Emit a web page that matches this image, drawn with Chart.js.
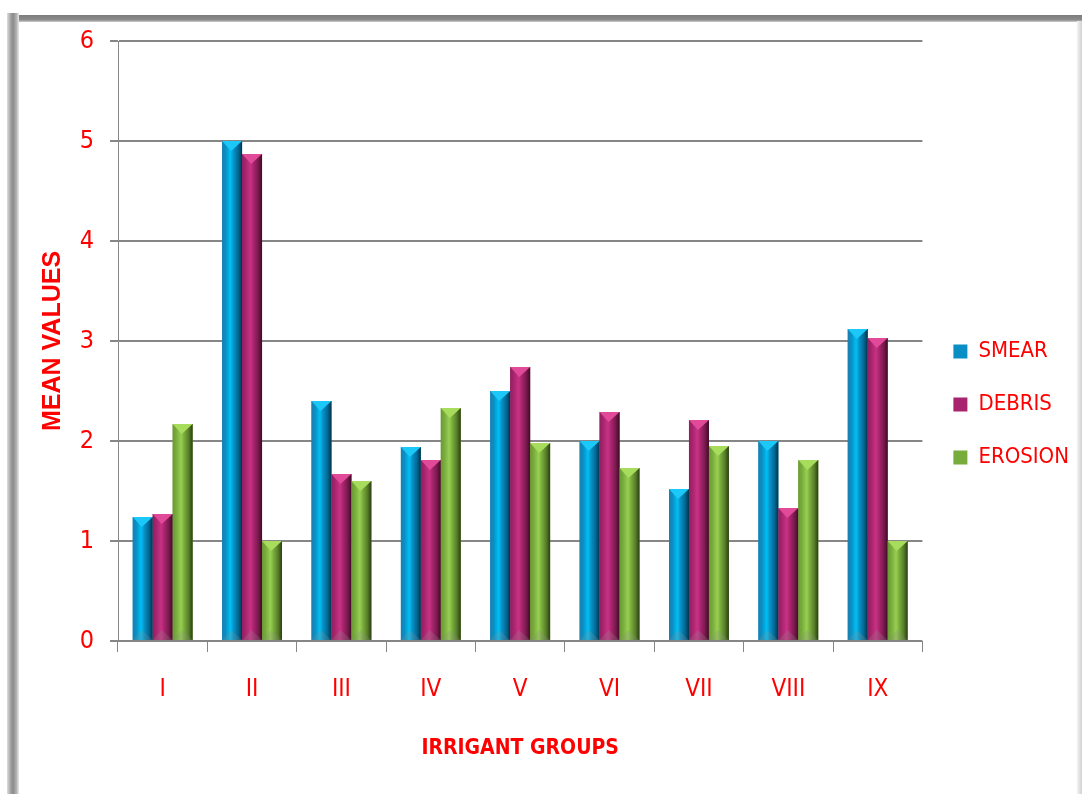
<!DOCTYPE html>
<html><head><meta charset="utf-8">
<script src="https://cdn.jsdelivr.net/npm/chart.js@4/dist/chart.umd.min.js"></script>
<style>
html,body{margin:0;padding:0;background:#fff;overflow:hidden}
#wrap{position:relative;width:1083px;height:794px;background:#fff}
#frameTop{position:absolute;left:13px;top:15px;width:1069px;height:7px;background:linear-gradient(#7c7c7c,#8c8c8c 70%,#cfcfcf)}
#frameLeft{position:absolute;left:7px;top:13px;width:12px;height:781px;background:linear-gradient(90deg,#dedede,#a4a4a4 30%,#8a8a8a 50%,#b4b4b4 80%,#ececec)}
#frameRight{position:absolute;left:1077px;top:21px;width:5px;height:773px;background:linear-gradient(90deg,#f2f2f2,#d2d2d2)}
canvas{position:absolute;left:0;top:0}
</style></head>
<body><div id="wrap"><div id="frameTop"></div><div id="frameLeft"></div><div id="frameRight"></div><canvas id="c" width="1083" height="794"></canvas></div>
<script>
const categories = ['I','II','III','IV','V','VI','VII','VIII','IX'];
const seriesNames = ['SMEAR','DEBRIS','EROSION'];
const smear   = [1.24, 5.00, 2.40, 1.94, 2.50, 2.00, 1.52, 2.00, 3.12];
const debris  = [1.27, 4.87, 1.67, 1.81, 2.74, 2.29, 2.21, 1.33, 3.03];
const erosion = [2.17, 1.00, 1.60, 2.33, 1.98, 1.73, 1.95, 1.81, 1.00];
const yTicks = [0, 1, 2, 3, 4, 5, 6];
const xTitle = 'IRRIGANT GROUPS';
const yTitle = 'MEAN VALUES';

const NARROW = "'Liberation Sans Narrow','DejaVu Sans Condensed','Liberation Sans',sans-serif";
const RED = '#ff0000';
const GRID = '#868686';

const barStyles = [
  {edge:'#1a7fae', mid:'#0a8fc4', light:'#00bff5', dark:'#006a96', darker:'#00334a', top:'#1cc8f8'},
  {edge:'#8e2060', mid:'#a8246e', light:'#c83284', dark:'#7a1a4e', darker:'#3e0c26', top:'#e04a98'},
  {edge:'#6a9a34', mid:'#78ac3c', light:'#98cf52', dark:'#587e2a', darker:'#2a3e12', top:'#a8dc5c'}
];

const shade = {
  id: 'shade',
  afterDatasetsDraw(chart) {
    const ctx = chart.ctx;
    chart.data.datasets.forEach((ds, di) => {
      const meta = chart.getDatasetMeta(di);
      const st = barStyles[di];
      meta.data.forEach(el => {
        const {x, y, base, width} = el.getProps(['x','y','base','width'], true);
        const l = x - width / 2, r = x + width / 2;
        const g = ctx.createLinearGradient(l, 0, r, 0);
        g.addColorStop(0, st.edge);
        g.addColorStop(0.18, st.mid);
        g.addColorStop(0.42, st.light);
        g.addColorStop(0.58, st.mid);
        g.addColorStop(0.8, st.dark);
        g.addColorStop(1, st.darker);
        ctx.save();
        ctx.fillStyle = g;
        ctx.fillRect(l, y, width, base - y);
        const ax = l + width * 0.45;
        ctx.fillStyle = st.top;
        ctx.beginPath();
        ctx.moveTo(l, y); ctx.lineTo(r, y); ctx.lineTo(ax, y + 10); ctx.closePath(); ctx.fill();
        ctx.fillStyle = 'rgba(140,140,140,0.25)';
        ctx.beginPath();
        ctx.moveTo(l, base); ctx.lineTo(r, base); ctx.lineTo(ax, base - 10); ctx.closePath(); ctx.fill();
        ctx.restore();
      });
    });
  }
};

new Chart(document.getElementById('c'), {
  type: 'bar',
  data: {
    labels: categories,
    datasets: [
      {label: seriesNames[0], data: smear,   backgroundColor: '#0a8fc4', borderWidth: 0},
      {label: seriesNames[1], data: debris,  backgroundColor: '#a8246e', borderWidth: 0},
      {label: seriesNames[2], data: erosion, backgroundColor: '#78ac3c', borderWidth: 0}
    ]
  },
  options: {
    responsive: false,
    animation: false,
    devicePixelRatio: 1,
    layout: {padding: {left: 0, top: 41, right: 4, bottom: 0}},
    datasets: {bar: {categoryPercentage: 0.67, barPercentage: 1.0}},
    scales: {
      x: {
        grid: {display: true, drawOnChartArea: false, offset: true, tickLength: 11, color: GRID, lineWidth: 1},
        border: {display: true, color: GRID, width: 1},
        ticks: {color: RED, font: {family: NARROW, size: 24}, padding: 23, maxRotation: 0},
        title: {display: true, text: xTitle, color: RED, font: {family: NARROW, size: 21, weight: 'bold'}, padding: {top: 0, bottom: 33}},
        afterFit(s) { s.height = 153; }
      },
      y: {
        min: yTicks[0], max: yTicks[yTicks.length - 1],
        afterBuildTicks(s) { s.ticks = yTicks.map(v => ({value: v})); },
        grid: {color: GRID, lineWidth: 2, tickLength: 8, drawTicks: true},
        border: {display: true, color: GRID, width: 1},
        ticks: {color: RED, font: {family: NARROW, size: 25}, padding: 16},
        title: {display: true, text: yTitle, color: RED, font: {family: "'Liberation Sans',Arial,sans-serif", size: 25, weight: 'bold'}, padding: {top: 38, bottom: 0}},
        afterFit(s) { s.width = 118; }
      }
    },
    plugins: {
      tooltip: {enabled: false},
      legend: {
        position: 'right', align: 'start',
        title: {display: true, text: ' ', padding: {top: 254, bottom: 0}},
        labels: {boxWidth: 14, boxHeight: 14, padding: 31, color: RED, font: {family: NARROW, size: 22}}
      }
    }
  },
  plugins: [shade]
});
</script>
</body></html>
